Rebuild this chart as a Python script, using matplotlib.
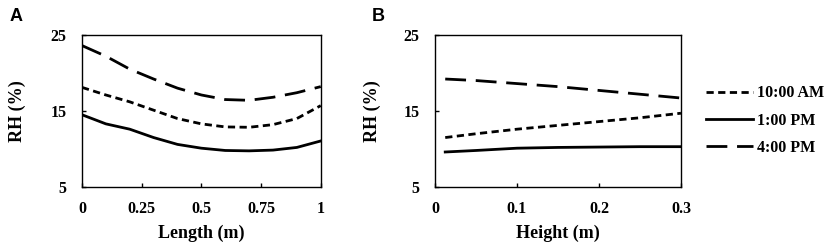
import matplotlib; matplotlib.use("Agg")
import matplotlib.pyplot as plt

# --- panel A: RH along length ---
length = [0, 0.1, 0.2, 0.3, 0.4, 0.5, 0.6, 0.7, 0.8, 0.9, 1.0]
a_10am = [18.1, 17.1, 16.2, 15.1, 14.0, 13.3, 12.9, 12.85, 13.2, 14.0, 15.7]
a_1pm = [14.5, 13.3, 12.6, 11.5, 10.6, 10.1, 9.8, 9.75, 9.85, 10.2, 11.05]
a_4pm = [23.6, 22.2, 20.5, 19.2, 18.0, 17.1, 16.5, 16.4, 16.8, 17.4, 18.2]

# --- panel B: RH along height ---
height = [0.0125, 0.05, 0.1, 0.15, 0.2, 0.25, 0.3]
b_10am = [11.5, 12.0, 12.6, 13.1, 13.6, 14.1, 14.7]
b_1pm = [9.6, 9.8, 10.1, 10.2, 10.25, 10.3, 10.3]
b_4pm = [19.2, 19.0, 18.6, 18.2, 17.7, 17.2, 16.7]

labels = ['10:00 AM', '1:00 PM', '4:00 PM']
styles = [dict(ls=(0, (2.6, 1.6))), dict(ls='-'), dict(ls=(0, (7.5, 3.5)))]

serif = ['Liberation Serif', 'DejaVu Serif']
labfont = dict(family=serif, weight='bold', size=13)

fig = plt.figure(figsize=(8.29, 2.46), dpi=100)
axA = fig.add_axes([0.0989, 0.24, 0.288, 0.618])
axB = fig.add_axes([0.5247, 0.24, 0.2967, 0.618])

for ys, lab, st in zip([a_10am, a_1pm, a_4pm], labels, styles):
    axA.plot(length, ys, color='black', lw=2, label=lab, **st)
for ys, lab, st in zip([b_10am, b_1pm, b_4pm], labels, styles):
    axB.plot(height, ys, color='black', lw=2, label=lab, **st)

axA.set_xlim(0, 1); axA.set_xticks([0, 0.25, 0.5, 0.75, 1])
axA.set_xticklabels(['0', '0.25', '0.5', '0.75', '1'])
axB.set_xlim(0, 0.3); axB.set_xticks([0, 0.1, 0.2, 0.3])
axB.set_xticklabels(['0', '0.1', '0.2', '0.3'])
axA.set_xlabel('Length (m)', fontdict=labfont, labelpad=6)
axB.set_xlabel('Height (m)', fontdict=labfont, labelpad=6)
axA.set_ylabel('RH (%)', fontdict=labfont, labelpad=18)
axB.set_ylabel('RH (%)', fontdict=labfont, labelpad=16)

for ax in (axA, axB):
    ax.set_ylim(5, 25); ax.set_yticks([5, 15, 25])
    ax.tick_params(direction='in', length=3, width=1, pad=10)
    ax.tick_params(axis='y', pad=11)
    for t in ax.get_xticklabels() + ax.get_yticklabels():
        t.set_fontfamily(serif); t.set_fontweight('bold'); t.set_fontsize(11.5)
    for s in ax.spines.values():
        s.set_linewidth(1)

fig.text(0.012, 0.915, 'A', family=['Liberation Sans', 'DejaVu Sans'], weight='bold', fontsize=13)
fig.text(0.449, 0.915, 'B', family=['Liberation Sans', 'DejaVu Sans'], weight='bold', fontsize=13)

leg = axB.legend(loc='center left', bbox_to_anchor=(1.045, 0.437), frameon=False,
                 prop=dict(family=serif, weight='bold', size=11.5),
                 handlelength=2.9, handletextpad=0.25, labelspacing=0.7)

fig.savefig('out.png', dpi=100)
